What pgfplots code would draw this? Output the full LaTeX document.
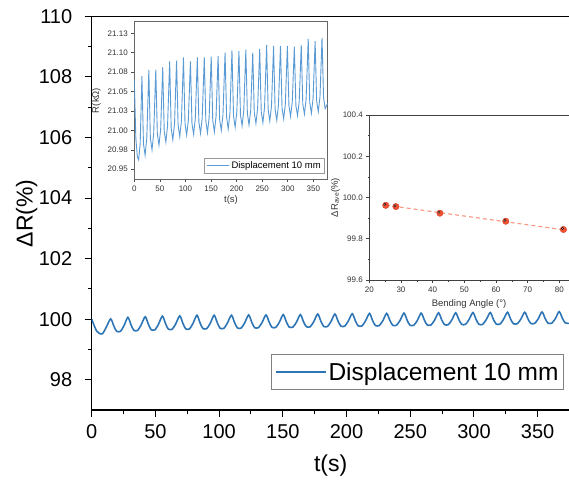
\documentclass[border=0pt]{standalone}
\usepackage{fontspec}
\setmainfont{Liberation Sans}
\usepackage{pgfplots}
\pgfplotsset{compat=1.18}
\definecolor{mainblue}{RGB}{46,117,182}
\definecolor{insetblue}{RGB}{91,155,213}
\definecolor{ballred}{RGB}{245,80,50}
\definecolor{dashsalmon}{RGB}{250,150,130}
\begin{document}
\begin{tikzpicture}
\useasboundingbox (-91.7pt,-73pt) rectangle (477.3pt,410pt);
% ---------------- main axis ----------------
\begin{axis}[
  at={(0pt,0pt)}, anchor=south west,
  scale only axis, width=477.8pt, height=393.6pt,
  xmin=0, xmax=375, ymin=97, ymax=110,
  axis x line*=bottom, axis y line*=left,
  axis line style={line width=1.2pt, black, -},
  xtick={0,50,...,350}, minor x tick num=1,
  ytick={98,100,...,110}, minor y tick num=1,
  tick align=outside,
  major tick length=7pt, minor tick length=4pt,
  every tick/.style={black, line width=1pt},
  /pgf/number format/assume math mode=true,
  ticklabel style={font=\fontsize{20}{24}\selectfont},
  yticklabel style={xshift=-9pt},
  xticklabel style={yshift=-4pt},
  xlabel={t(s)}, ylabel={ΔR(\%)},
  label style={font=\fontsize{23}{27}\selectfont},
  xlabel style={at={(axis description cs:0.5,0)}, anchor=center, yshift=-56pt},
  ylabel style={at={(axis description cs:0,0.5)}, anchor=center, yshift=65pt},
  legend style={at={(rel axis cs:0.9885,0.142)}, anchor=north east, draw=gray, line width=0.8pt,
    font=\fontsize{24.5}{29}\selectfont, inner xsep=3pt, inner ysep=6pt},
  legend cell align=left,
  legend image code/.code={\draw[#1, line width=2pt] (0pt,0pt) -- (50pt,0pt);},
]
\draw[line width=1.2pt, black] (rel axis cs:0,1) -- (rel axis cs:1,1);
\addplot[color=mainblue, line width=1.6pt, smooth, tension=0.45] coordinates {
(0,100.00)(2,99.78)(4,99.60)(6,99.53)(8.5,99.52)(11.5,99.74)
(14.9,100.01)(17.4,99.77)(19.6,99.60)(22.6,99.60)(25.4,99.79)
(28.4,100.06)(30.9,99.81)(33.1,99.63)(36.1,99.63)(38.9,99.82)
(42.0,100.08)(44.5,99.83)(46.7,99.65)(49.7,99.65)(52.5,99.84)
(55.5,100.10)(58.0,99.85)(60.2,99.67)(63.2,99.67)(66.0,99.85)
(69.1,100.11)(71.6,99.86)(73.8,99.68)(76.8,99.68)(79.6,99.87)
(82.6,100.13)(85.1,99.87)(87.3,99.69)(90.3,99.69)(93.1,99.87)
(96.1,100.13)(98.6,99.88)(100.8,99.70)(103.8,99.70)(106.6,99.88)
(109.7,100.13)(112.2,99.88)(114.4,99.71)(117.4,99.71)(120.2,99.89)
(123.2,100.14)(125.7,99.89)(127.9,99.72)(130.9,99.72)(133.7,99.89)
(136.8,100.14)(139.3,99.90)(141.5,99.73)(144.5,99.73)(147.3,99.90)
(150.3,100.15)(152.8,99.91)(155.0,99.74)(158.0,99.74)(160.8,99.91)
(163.8,100.15)(166.3,99.91)(168.5,99.75)(171.5,99.75)(174.3,99.92)
(177.4,100.17)(179.9,99.93)(182.1,99.76)(185.1,99.76)(187.9,99.93)
(190.9,100.17)(193.4,99.93)(195.6,99.77)(198.6,99.77)(201.4,99.94)
(204.5,100.18)(207.0,99.94)(209.2,99.78)(212.2,99.78)(215.0,99.95)
(218.0,100.19)(220.5,99.95)(222.7,99.79)(225.7,99.79)(228.5,99.95)
(231.5,100.19)(234.0,99.96)(236.2,99.80)(239.2,99.80)(242.0,99.96)
(245.1,100.20)(247.6,99.96)(249.8,99.80)(252.8,99.80)(255.6,99.96)
(258.6,100.20)(261.1,99.97)(263.3,99.81)(266.3,99.81)(269.1,99.97)
(272.2,100.21)(274.7,99.98)(276.9,99.82)(279.9,99.82)(282.7,99.98)
(285.7,100.21)(288.2,99.98)(290.4,99.83)(293.4,99.83)(296.2,99.99)
(299.2,100.22)(301.7,99.99)(303.9,99.83)(306.9,99.83)(309.7,99.99)
(312.8,100.22)(315.3,99.99)(317.5,99.84)(320.5,99.84)(323.3,100.00)
(326.3,100.23)(328.8,100.00)(331.0,99.85)(334.0,99.85)(336.8,100.00)
(339.9,100.23)(342.4,100.01)(344.6,99.86)(347.6,99.86)(350.4,100.01)
(353.4,100.24)(355.9,100.02)(358.1,99.87)(361.1,99.87)(363.9,100.02)
(366.9,100.25)(369.4,100.03)(371.6,99.88)(375,99.86)
};
\addlegendentry{Displacement 10 mm}
\end{axis}
% ---------------- inset 1: R(kOhm) ----------------
\begin{axis}[
  at={(42.6pt,230.7pt)}, anchor=south west,
  scale only axis, width=193.4pt, height=157.6pt,
  axis background/.style={fill=white},
  xmin=0, xmax=378, ymin=20.937, ymax=21.140,
  xtick={0,50,...,350},
  ytick={20.95,20.975,21.0,21.025,21.05,21.075,21.1,21.125},
  yticklabels={20.95,20.98,21.00,21.03,21.05,21.08,21.10,21.13},
  tick pos=left, tick align=outside,
  major tick length=3pt,
  every tick/.style={black!70, line width=0.6pt},
  axis line style={black!60, line width=0.8pt},
  /pgf/number format/assume math mode=true,
  ticklabel style={font=\fontsize{8}{9.5}\selectfont, text=black!80},
  xlabel={t(s)}, ylabel={R(kΩ)},
  label style={font=\fontsize{9.5}{11}\selectfont, text=black!80},
  xlabel style={at={(axis description cs:0.5,0)}, anchor=center, yshift=-21pt},
  ylabel style={at={(axis description cs:0,0.5)}, anchor=center, yshift=38pt},
  legend style={at={(rel axis cs:0.986,0.038)}, anchor=south east, draw=black!40, line width=0.5pt,
    font=\fontsize{9.5}{11}\selectfont, inner xsep=2pt, inner ysep=1pt},
  legend cell align=left,
  legend image code/.code={\draw[#1] (0pt,0pt) -- (22pt,0pt);},
]
\addplot[color=insetblue, line width=0.9pt] coordinates {
(0,21.065)(3,20.990)(6,20.966)(8.5,20.962)(11.5,20.983)
(14.9,21.070)(17.9,20.983)(21.1,20.968)(24.4,20.990)
(28.4,21.078)(31.4,20.990)(34.6,20.975)(37.9,20.996)
(42.0,21.078)(45.0,20.996)(48.2,20.981)(51.5,21.001)
(55.5,21.081)(58.5,20.999)(61.7,20.985)(65.0,21.006)
(69.1,21.089)(72.1,21.003)(75.3,20.988)(78.6,21.008)
(82.6,21.090)(85.6,21.007)(88.8,20.992)(92.1,21.012)
(96.1,21.094)(99.1,21.009)(102.3,20.994)(105.6,21.013)
(109.7,21.089)(112.7,21.009)(115.9,20.995)(119.2,21.015)
(123.2,21.094)(126.2,21.011)(129.4,20.996)(132.7,21.016)
(136.8,21.094)(139.8,21.012)(143.0,20.997)(146.3,21.017)
(150.3,21.095)(153.3,21.013)(156.5,20.998)(159.8,21.018)
(163.8,21.096)(166.8,21.014)(170.0,21.000)(173.3,21.020)
(177.4,21.100)(180.4,21.017)(183.6,21.002)(186.9,21.022)
(190.9,21.103)(193.9,21.019)(197.1,21.004)(200.4,21.024)
(204.5,21.102)(207.5,21.020)(210.7,21.006)(214.0,21.026)
(218.0,21.104)(221.0,21.022)(224.2,21.007)(227.5,21.026)
(231.5,21.100)(234.5,21.023)(237.7,21.009)(241.0,21.028)
(245.1,21.105)(248.1,21.024)(251.3,21.010)(254.6,21.030)
(258.6,21.110)(261.6,21.027)(264.8,21.012)(268.1,21.031)
(272.2,21.109)(275.2,21.027)(278.4,21.013)(281.7,21.032)
(285.7,21.109)(288.7,21.029)(291.9,21.015)(295.2,21.034)
(299.2,21.109)(302.2,21.032)(305.4,21.018)(308.7,21.036)
(312.8,21.108)(315.8,21.032)(319.0,21.019)(322.3,21.037)
(326.3,21.110)(329.3,21.034)(332.5,21.021)(335.8,21.040)
(339.9,21.118)(342.9,21.036)(346.1,21.022)(349.4,21.041)
(353.4,21.115)(356.4,21.038)(359.6,21.024)(362.9,21.043)
(366.9,21.119)(369.9,21.042)(373.1,21.028)(378,21.035)
};
\addlegendentry{Displacement 10 mm}
\end{axis}
% ---------------- inset 2: bending angle ----------------
\begin{axis}[
  at={(277.6pt,130pt)}, anchor=south west,
  scale only axis, width=199.5pt, height=165pt,
  axis background/.style={fill=white},
  xmin=20, xmax=83, ymin=99.6, ymax=100.4,
  axis x line*=bottom, axis y line*=left,
  axis line style={black!75, line width=0.8pt, -},
  xtick={20,30,...,80}, minor x tick num=1,
  ytick={99.6,99.8,100.0,100.2,100.4}, minor y tick num=1,
  yticklabel style={/pgf/number format/fixed, /pgf/number format/fixed zerofill, /pgf/number format/precision=1},
  tick align=outside,
  major tick length=3pt, minor tick length=1.8pt,
  every tick/.style={black!75, line width=0.6pt},
  /pgf/number format/assume math mode=true,
  ticklabel style={font=\fontsize{8}{9.5}\selectfont, text=black!80},
  xlabel={Bending Angle (°)}, ylabel={ΔR\textsubscript{ave}(\%)},
  label style={font=\fontsize{9.5}{11}\selectfont, text=black!80},
  xlabel style={at={(axis description cs:0.5,0)}, anchor=center, yshift=-24pt},
  ylabel style={at={(axis description cs:0,0.5)}, anchor=center, yshift=34pt},
]
\draw[black!75, line width=0.8pt] (rel axis cs:0,1) -- (rel axis cs:1,1);
\addplot[color=dashsalmon, line width=1.1pt, dash pattern=on 4pt off 3pt] coordinates {
(25.2,99.963)(82.5,99.841)
};
\addplot[only marks, mark=*, mark size=3.2pt, mark options={fill=ballred, draw=ballred!85!black, line width=0.4pt}] coordinates {
(25.2,99.962)(28.4,99.956)(42.3,99.924)(63.1,99.885)(81.3,99.845)
};
\addplot[only marks, mark=*, mark size=1.1pt, mark options={fill=white, draw=none, fill opacity=0.75, xshift=-0.9pt, yshift=0.9pt}] coordinates {
(25.2,99.962)(28.4,99.956)(42.3,99.924)(63.1,99.885)(81.3,99.845)
};
\end{axis}
\end{tikzpicture}
\end{document}
